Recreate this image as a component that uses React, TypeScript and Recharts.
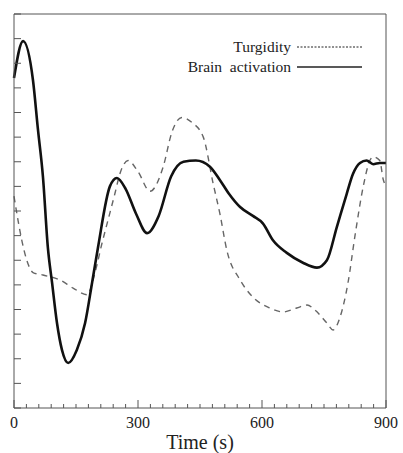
import { Legend, Line, LineChart, XAxis, YAxis } from 'recharts'

// time (s) -> response (arbitrary units, 0..16)
const brainTime = [0, 22, 46, 58, 70, 82, 92, 104, 116, 131, 152, 172, 189, 203, 232, 249, 270, 295, 322, 350, 380, 410, 440, 474, 498, 520, 547, 578, 602, 627, 660, 699, 733, 757, 781, 805, 820, 837, 853, 869, 885, 900]
const brainValue = [13.4, 14.9, 13.3, 11.3, 9.4, 6.5, 5.1, 3.45, 2.36, 1.83, 2.36, 3.45, 5.1, 6.5, 9.0, 9.34, 8.9, 7.9, 7.1, 7.8, 9.4, 10.0, 10.05, 9.8, 9.26, 8.7, 8.16, 7.8, 7.5, 6.8, 6.3, 5.9, 5.7, 6.0, 7.35, 8.7, 9.5, 9.95, 10.05, 9.9, 9.95, 9.95]

const turgTime = [0, 10, 19, 31, 46, 70, 111, 143, 177, 196, 213, 227, 244, 256, 276, 300, 329, 361, 382, 406, 430, 458, 482, 498, 515, 547, 578, 619, 651, 684, 709, 728, 757, 772, 789, 808, 825, 845, 861, 869, 885, 893, 900]
const turgValue = [8.6, 7.6, 6.8, 6.0, 5.5, 5.4, 5.2, 4.87, 4.6, 5.5, 6.7, 7.6, 8.7, 9.5, 10.05, 9.6, 8.8, 9.8, 11.2, 11.8, 11.6, 11.0, 9.1, 7.9, 6.4, 5.2, 4.5, 4.06, 3.9, 4.06, 4.18, 3.98, 3.45, 3.17, 3.7, 5.08, 7.0, 9.0, 10.05, 10.2, 10.05, 9.3, 9.0]

const xTicks = Array.from({ length: 31 }, (_, i) => i * 30)
const xLabels = [0, 300, 600, 900]
const yTicks = Array.from({ length: 17 }, (_, i) => i)

const brainData = brainTime.map((t, i) => ({ t, v: brainValue[i] }))
const turgData = turgTime.map((t, i) => ({ t, v: turgValue[i] }))

const FRAME = '#555'
const SERIF = '"Liberation Serif", "DejaVu Serif", serif'

function BottomTick({ x, y, payload }: any) {
  const major = xLabels.includes(payload.value)
  return (
    <g>
      <line x1={x} x2={x} y1={y} y2={y - (major ? 8 : 4)} stroke={FRAME} />
      {major && (
        <text x={x} y={y + 20} textAnchor="middle" style={{ fontSize: 16, fontFamily: SERIF }} fill="#222">
          {payload.value}
        </text>
      )}
    </g>
  )
}

function TopTick({ x, y, payload }: any) {
  const major = xLabels.includes(payload.value)
  return <line x1={x} x2={x} y1={y} y2={y + (major ? 8 : 4)} stroke={FRAME} />
}

function LeftTick({ x, y }: any) {
  return <line x1={x} x2={x + 7} y1={y} y2={y} stroke={FRAME} />
}

function RightTick({ x, y }: any) {
  return <line x1={x} x2={x - 7} y1={y} y2={y} stroke={FRAME} />
}

function LegendBox() {
  const rows = [
    { label: 'Turgidity', dash: '2 1.5', w: 1 },
    { label: 'Brain  activation', dash: undefined, w: 1.3 },
  ]
  return (
    <div style={{ fontFamily: SERIF, fontSize: 15.5, color: '#222' }}>
      {rows.map((r) => (
        <div key={r.label} style={{ display: 'flex', justifyContent: 'flex-end', alignItems: 'center', height: 20 }}>
          <span style={{ whiteSpace: 'pre' }}>{r.label}</span>
          <svg width={70} height={10} style={{ marginLeft: 5 }}>
            <line x1={1} x2={66} y1={5} y2={5} stroke="#222" strokeWidth={r.w} strokeDasharray={r.dash} />
          </svg>
        </div>
      ))}
    </div>
  )
}

export default function App() {
  return (
    <div style={{ position: 'absolute', left: 0, top: 0, background: '#fff' }}>
      <LineChart width={403} height={453} margin={{ top: 0, right: 0, bottom: 0, left: 0 }}>
        <XAxis
          xAxisId="b"
          dataKey="t"
          type="number"
          domain={[0, 900]}
          ticks={xTicks}
          interval={0}
          height={45}
          tickSize={0}
          tickMargin={0}
          tick={<BottomTick />}
          axisLine={{ stroke: FRAME }}
          allowDuplicatedCategory={false}
          label={{ value: 'Time (s)', position: 'insideBottom', offset: 4, fontSize: 20, fontFamily: SERIF, fill: '#222' }}
        />
        <XAxis
          xAxisId="t"
          orientation="top"
          dataKey="t"
          type="number"
          domain={[0, 900]}
          ticks={xTicks}
          interval={0}
          height={14}
          tickSize={0}
          tickMargin={0}
          tick={<TopTick />}
          axisLine={{ stroke: FRAME }}
          allowDuplicatedCategory={false}
        />
        <YAxis
          yAxisId="l"
          type="number"
          domain={[0, 16]}
          ticks={yTicks}
          interval={0}
          width={14}
          tickSize={0}
          tickMargin={0}
          tick={<LeftTick />}
          axisLine={{ stroke: FRAME }}
        />
        <YAxis
          yAxisId="r"
          orientation="right"
          type="number"
          domain={[0, 16]}
          ticks={yTicks}
          interval={0}
          width={17}
          tickSize={0}
          tickMargin={0}
          tick={<RightTick />}
          axisLine={{ stroke: FRAME }}
        />
        <Line
          xAxisId="b"
          yAxisId="l"
          data={turgData}
          dataKey="v"
          name="Turgidity"
          type="monotone"
          stroke="#666"
          strokeWidth={1.4}
          strokeDasharray="6 5"
          dot={false}
          isAnimationActive={false}
        />
        <Line
          xAxisId="b"
          yAxisId="l"
          data={brainData}
          dataKey="v"
          name="Brain activation"
          type="monotone"
          stroke="#111"
          strokeWidth={2.6}
          dot={false}
          isAnimationActive={false}
        />
        <Legend
          layout="horizontal"
          verticalAlign="middle"
          align="center"
          content={<LegendBox />}
          wrapperStyle={{ position: 'absolute', top: 37, left: 150, width: 216 }}
        />
      </LineChart>
    </div>
  )
}
